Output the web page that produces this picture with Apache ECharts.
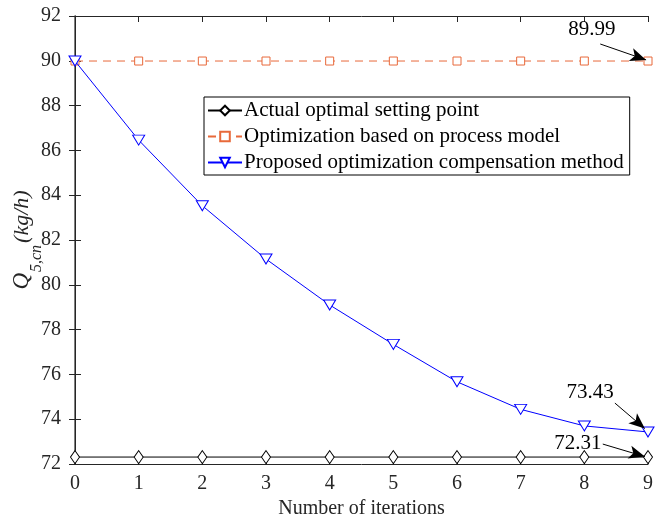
<!DOCTYPE html>
<html><head><meta charset="utf-8">
<script src="https://cdn.jsdelivr.net/npm/echarts@6/dist/echarts.min.js"></script>
<style>html,body{margin:0;padding:0;background:#fff}#c{width:664px;height:523px}</style>
</head><body><div id="c"></div>
<script>
var iterations = [0,1,2,3,4,5,6,7,8,9];
var actualOptimal = [72.31,72.31,72.31,72.31,72.31,72.31,72.31,72.31,72.31,72.31];
var modelBased = [89.99,89.99,89.99,89.99,89.99,89.99,89.99,89.99,89.99,89.99];
var proposed = [89.99,86.46,83.53,81.15,79.10,77.34,75.67,74.44,73.70,73.43];
var seriesNames = ['Actual optimal setting point','Optimization based on process model','Proposed optimization compensation method'];
var yTicks = {min:72, max:92, step:2};
var xTicks = {min:0, max:9, step:1};
// annotations: [label, textX, textY, arrowFromX, arrowFromY, arrowToX, arrowToY]
var annotations = [
  ['89.99', 8.12, 91.38, 8.25, 90.75, 8.97, 90.04],
  ['73.43', 8.09, 75.21, 8.48, 74.72, 8.95, 73.58],
  ['72.31', 7.90, 72.92, 8.29, 72.89, 8.95, 72.33]
];

var FONT = 'Liberation Serif, Times New Roman, serif';
function pairs(ys){ return iterations.map(function(x,i){return [x, ys[i]];}); }

var chart = echarts.init(document.getElementById('c'), null, {renderer:'canvas'});
var axisCol = '#262626';
var option = {
  animation:false,
  backgroundColor:'#fff',
  grid:{left:75, right:16, top:16, bottom:59, containLabel:false, outerBoundsMode:'none'},
  legend:{
    orient:'vertical', left:204, top:97,
    backgroundColor:'#fff', borderColor:'#000', borderWidth:1,
    padding:[3,6,2,3], itemGap:5, itemWidth:34, itemHeight:12,
    textStyle:{fontFamily:FONT, fontSize:21, color:'#000', padding:[0,0,0,-3]},
    data:seriesNames
  },
  xAxis:[{
    type:'value', min:xTicks.min, max:xTicks.max, interval:xTicks.step,
    name:'Number of iterations', nameLocation:'middle', nameGap:35, nameMoveOverlap:false,
    nameTextStyle:{fontFamily:FONT, fontSize:20, color:'#262626'},
    axisLine:{lineStyle:{color:axisCol, width:1}},
    axisTick:{inside:true, length:6, lineStyle:{color:axisCol}},
    axisLabel:{fontFamily:FONT, fontSize:20, color:'#262626', margin:10},
    splitLine:{show:false}
  },{
    type:'value', position:'top', min:xTicks.min, max:xTicks.max, interval:xTicks.step,
    axisLine:{show:true, lineStyle:{color:axisCol, width:1}},
    axisTick:{inside:true, length:6, lineStyle:{color:axisCol}},
    axisLabel:{show:false}, splitLine:{show:false}
  }],
  yAxis:[{
    type:'value', min:yTicks.min, max:yTicks.max, interval:yTicks.step,
    name:'{q|Q}{s|5,cn}{n|(kg/h)}', nameLocation:'middle', nameGap:42, nameRotate:90, nameMoveOverlap:false,
    nameTextStyle:{
      color:'#262626',
      rich:{
        q:{fontFamily:FONT, fontStyle:'italic', fontSize:23, color:'#262626', verticalAlign:'bottom', lineHeight:26},
        s:{fontFamily:FONT, fontStyle:'italic', fontSize:16, color:'#262626', verticalAlign:'bottom', lineHeight:26, padding:[0,2,-12,1]},
        n:{fontFamily:FONT, fontStyle:'italic', fontSize:22, color:'#262626', verticalAlign:'bottom', lineHeight:26}
      }
    },
    axisLine:{show:true, lineStyle:{color:'#555', width:1.5}},
    axisTick:{inside:true, length:6, lineStyle:{color:axisCol}},
    axisLabel:{fontFamily:FONT, fontSize:20, color:'#262626', margin:14},
    splitLine:{show:false}
  },{
    type:'value', position:'right', min:yTicks.min, max:yTicks.max, interval:yTicks.step,
    axisLine:{show:true, lineStyle:{color:axisCol, width:1}},
    axisTick:{inside:true, length:6, lineStyle:{color:axisCol}},
    axisLabel:{show:false}, splitLine:{show:false}
  }],
  series:[
    {
      name:seriesNames[0], type:'line', data:pairs(actualOptimal),
      symbol:'diamond', symbolSize:[9,13], showAllSymbol:true,
      lineStyle:{color:'#000', width:1}, itemStyle:{color:'#fff', borderColor:'#000', borderWidth:1},
      color:'#000', z:3
    },
    {
      name:seriesNames[1], type:'line', data:pairs(modelBased),
      symbol:'rect', symbolSize:8,
      lineStyle:{color:'#E8693A', width:1, type:[8,6]}, itemStyle:{color:'#fff', borderColor:'#E8693A', borderWidth:1},
      color:'#E8693A', z:3
    },
    {
      name:seriesNames[2], type:'line', data:pairs(proposed), smooth:false,
      symbol:'triangle', symbolRotate:180, symbolSize:[12,10],
      lineStyle:{color:'#0000FF', width:1}, itemStyle:{color:'#fff', borderColor:'#0000FF', borderWidth:1},
      color:'#0000FF', z:4
    },
    {
      name:'annotations', type:'line', data:[], silent:true, z:6,
      markLine:{
        silent:true, animation:false,
        symbol:['none','arrow'], symbolSize:[10,16],
        lineStyle:{color:'#000', width:1, type:'solid'},
        itemStyle:{color:'#000'},
        label:{show:false},
        data:annotations.map(function(a){ return [{coord:[a[3],a[4]]},{coord:[a[5],a[6]]}]; })
      },
      markPoint:{
        silent:true, symbol:'circle', symbolSize:0,
        label:{show:true, position:'inside', fontFamily:FONT, fontSize:21, color:'#000', formatter:function(p){return p.name;}},
        data:annotations.map(function(a){ return {name:a[0], coord:[a[1],a[2]]}; })
      }
    }
  ]
};
chart.setOption(option);
</script></body></html>
